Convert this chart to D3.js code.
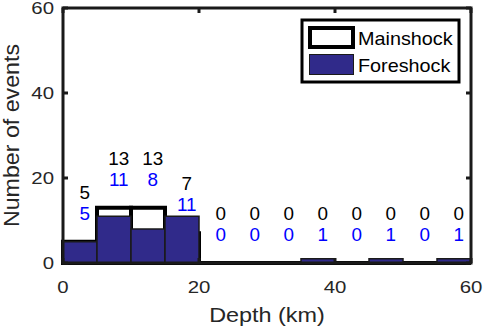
<!DOCTYPE html>
<html>
<head>
<meta charset="utf-8">
<script src="https://cdn.jsdelivr.net/npm/d3@7"></script>
<style>
  body { margin: 0; background: #fff; }
  svg { display: block; font-family: "Liberation Sans", Arial, Helvetica, sans-serif; }
</style>
</head>
<body>
<svg width="484" height="332"></svg>
<script>
// depth bins (km, left edge of each 5 km bin)
var binStarts = [0, 5, 10, 15, 20, 25, 30, 35, 40, 45, 50, 55];
var binWidth = 5;
var mainshockCounts = [5, 13, 13, 7, 0, 0, 0, 0, 0, 0, 0, 0];
var foreshockCounts = [5, 11, 8, 11, 0, 0, 0, 1, 0, 1, 0, 1];
var xTicks = [0, 20, 40, 60];
var yTicks = [0, 20, 40, 60];
var seriesNames = ['Mainshock', 'Foreshock'];

var navy = '#302a8a';

var svg = d3.select('svg');
var margin = { left: 63, right: 13, top: 8, bottom: 69 };
var width = +svg.attr('width'),
  height = +svg.attr('height');

var x = d3.scaleLinear().domain([0, 60]).range([margin.left, width - margin.right]);
var y = d3.scaleLinear().domain([0, 60]).range([height - margin.bottom, margin.top]);

// stretched text helper (reference text is wide)
function wideText(g, px, py, str, size, sx, anchor) {
  return g
    .append('text')
    .attr('transform', 'translate(' + px + ',' + py + ') scale(' + sx + ',1)')
    .attr('text-anchor', anchor || 'middle')
    .style('font-size', size + 'px')
    .text(str);
}

function barPath(d, v) {
  var x0 = x(d),
    x1 = x(d + binWidth),
    y0 = y(0),
    y1 = y(v);
  return 'M' + x0 + ',' + y0 + 'V' + y1 + 'H' + x1 + 'V' + y0 + 'Z';
}

// mainshock: white bars with thick black outline
svg
  .append('g')
  .selectAll('path')
  .data(binStarts)
  .enter()
  .append('path')
  .attr('d', function (d, i) {
    return barPath(d, mainshockCounts[i]);
  })
  .style('fill', '#fff')
  .style('stroke', '#000')
  .style('stroke-width', 4)
  .style('stroke-linejoin', 'miter');

// foreshock: filled navy bars
svg
  .append('g')
  .selectAll('path')
  .data(binStarts)
  .enter()
  .filter(function (d, i) {
    return foreshockCounts[i] > 0;
  })
  .append('path')
  .attr('d', function (d) {
    return barPath(d, foreshockCounts[binStarts.indexOf(d)]);
  })
  .style('fill', navy)
  .style('stroke', '#1a1a1a')
  .style('stroke-width', 1.5);

// count labels
var labels = svg.append('g');
binStarts.forEach(function (d, i) {
  var cx = x(d + binWidth / 2 + 0.7);
  wideText(labels, cx, y(mainshockCounts[i] + 11.7) + 6.5, mainshockCounts[i], 18, 1.05).style('fill', '#000');
  wideText(labels, cx, y(mainshockCounts[i] + 6.75) + 6.5, foreshockCounts[i], 18, 1.05).style('fill', '#0000ff');
});

// axes box
var axisColor = '#1a1a1a';
var frame = svg.append('g');
frame
  .append('rect')
  .attr('x', x(0))
  .attr('y', y(60))
  .attr('width', x(60) - x(0))
  .attr('height', y(0) - y(60))
  .style('fill', 'none')
  .style('stroke', axisColor)
  .style('stroke-width', 3);

var tickLen = 5;
xTicks.forEach(function (t) {
  frame.append('line').attr('x1', x(t)).attr('x2', x(t)).attr('y1', y(0)).attr('y2', y(0) - tickLen)
    .style('stroke', axisColor).style('stroke-width', 3);
  frame.append('line').attr('x1', x(t)).attr('x2', x(t)).attr('y1', y(60)).attr('y2', y(60) + tickLen)
    .style('stroke', axisColor).style('stroke-width', 3);
  wideText(frame, x(t), y(0) + 30, t, 17, 1.2).style('fill', '#262626');
});
yTicks.forEach(function (t) {
  frame.append('line').attr('x1', x(0)).attr('x2', x(0) + tickLen).attr('y1', y(t)).attr('y2', y(t))
    .style('stroke', axisColor).style('stroke-width', 3);
  frame.append('line').attr('x1', x(60)).attr('x2', x(60) - tickLen).attr('y1', y(t)).attr('y2', y(t))
    .style('stroke', axisColor).style('stroke-width', 3);
  wideText(frame, x(0) - 9, y(t) + 6, t, 17, 1.2, 'end').style('fill', '#262626');
});

// axis titles
wideText(svg, (x(0) + x(60)) / 2, 322, 'Depth (km)', 19.5, 1.2).style('fill', '#262626');
svg
  .append('text')
  .attr('transform', 'translate(18.5,' + (y(0) + y(60)) / 2 + ') rotate(-90) scale(1.08,1)')
  .attr('text-anchor', 'middle')
  .style('font-size', '21.5px')
  .style('fill', '#262626')
  .text('Number of events');

// legend
var legend = svg.append('g');
legend
  .append('rect')
  .attr('x', 302)
  .attr('y', 20)
  .attr('width', 157)
  .attr('height', 62)
  .style('fill', '#fff')
  .style('stroke', '#000')
  .style('stroke-width', 3);
legend
  .append('rect')
  .attr('x', 310)
  .attr('y', 28)
  .attr('width', 43)
  .attr('height', 19)
  .style('fill', '#fff')
  .style('stroke', '#000')
  .style('stroke-width', 4);
legend
  .append('rect')
  .attr('x', 309.5)
  .attr('y', 54.5)
  .attr('width', 44)
  .attr('height', 20)
  .style('fill', navy)
  .style('stroke', '#1a1a1a')
  .style('stroke-width', 1);
wideText(legend, 358, 45, seriesNames[0], 18, 1.1, 'start').style('fill', '#000');
wideText(legend, 358, 71.5, seriesNames[1], 18, 1.1, 'start').style('fill', '#000');
</script>
</body>
</html>
